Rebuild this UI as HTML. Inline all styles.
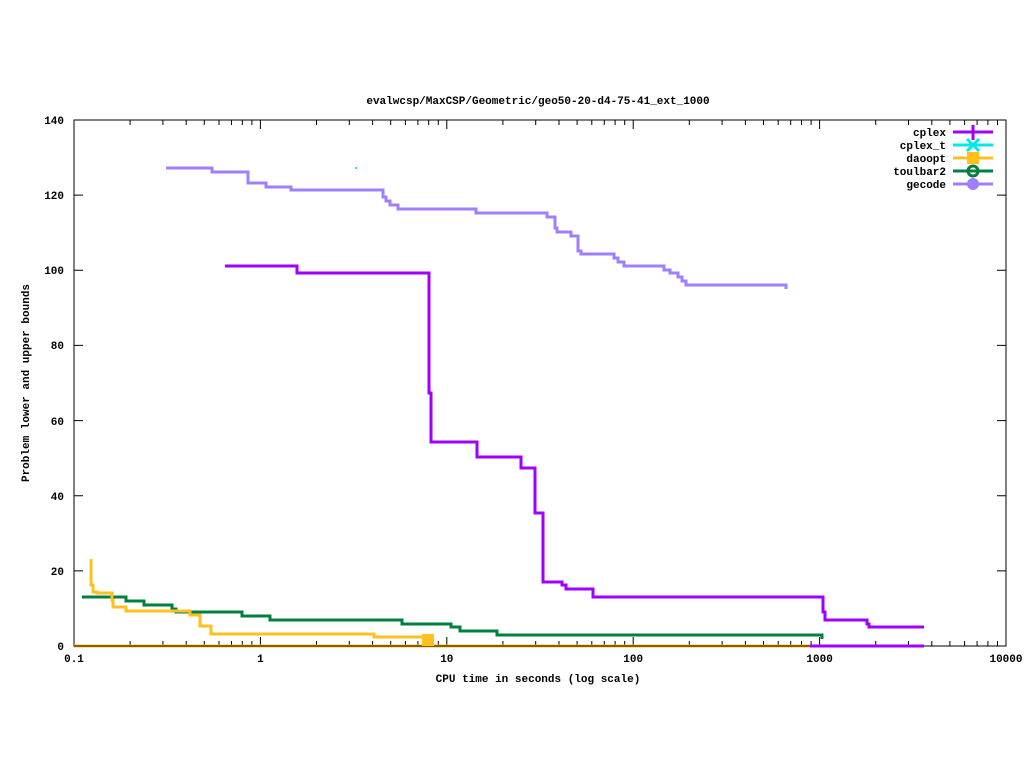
<!DOCTYPE html>
<html><head><style>body{margin:0;background:#fff}svg{display:block}text{font-family:"Liberation Mono",monospace;font-size:11px;font-weight:bold;fill:#000}</style></head><body>
<svg width="1024" height="768" xmlns="http://www.w3.org/2000/svg">
<rect x="74" y="120" width="932" height="526" fill="none" stroke="#000" stroke-width="1"/>
<path stroke="#000" stroke-width="1" fill="none" d="
M74 646v-9M74 120v9M260.4 646v-9M260.4 120v9M446.8 646v-9M446.8 120v9M633.2 646v-9M633.2 120v9M819.6 646v-9M819.6 120v9
M130.1 646v-5M162.9 646v-5M186.2 646v-5M204.3 646v-5M219 646v-5M231.5 646v-5M242.3 646v-5M251.9 646v-5
M316.5 646v-5M349.3 646v-5M372.6 646v-5M390.7 646v-5M405.4 646v-5M417.9 646v-5M428.7 646v-5M438.3 646v-5
M502.9 646v-5M535.7 646v-5M559 646v-5M577.1 646v-5M591.8 646v-5M604.3 646v-5M615.1 646v-5M624.7 646v-5
M689.3 646v-5M722.1 646v-5M745.4 646v-5M763.5 646v-5M778.2 646v-5M790.7 646v-5M801.5 646v-5M811.1 646v-5
M875.7 646v-5M908.5 646v-5M931.8 646v-5M949.9 646v-5M964.6 646v-5M977.1 646v-5M987.9 646v-5M997.5 646v-5
M130.1 120v5M162.9 120v5M186.2 120v5M204.3 120v5M219 120v5M231.5 120v5M242.3 120v5M251.9 120v5
M316.5 120v5M349.3 120v5M372.6 120v5M390.7 120v5M405.4 120v5M417.9 120v5M428.7 120v5M438.3 120v5
M502.9 120v5M535.7 120v5M559 120v5M577.1 120v5M591.8 120v5M604.3 120v5M615.1 120v5M624.7 120v5
M689.3 120v5M722.1 120v5M745.4 120v5M763.5 120v5M778.2 120v5M790.7 120v5M801.5 120v5M811.1 120v5
M875.7 120v5M908.5 120v5M931.8 120v5M949.9 120v5M964.6 120v5M977.1 120v5M987.9 120v5M997.5 120v5
M74 646h9M1006 646h-9M74 570.9h9M1006 570.9h-9M74 495.7h9M1006 495.7h-9M74 420.6h9M1006 420.6h-9
M74 345.4h9M1006 345.4h-9M74 270.3h9M1006 270.3h-9M74 195.1h9M1006 195.1h-9M74 120h9M1006 120h-9"/>
<g text-anchor="end">
<text x="64" y="650">0</text><text x="64" y="575">20</text><text x="64" y="500">40</text><text x="64" y="425">60</text>
<text x="64" y="349">80</text><text x="64" y="274">100</text><text x="64" y="199">120</text><text x="64" y="124">140</text>
</g>
<g text-anchor="middle">
<text x="74" y="662">0.1</text><text x="260.4" y="662">1</text><text x="446.8" y="662">10</text><text x="633.2" y="662">100</text><text x="819.6" y="662">1000</text><text x="1006" y="662">10000</text>
</g>
<text x="538" y="104" text-anchor="middle">evalwcsp/MaxCSP/Geometric/geo50-20-d4-75-41_ext_1000</text>
<text x="538" y="682" text-anchor="middle">CPU time in seconds (log scale)</text>
<text x="29" y="383" text-anchor="middle" transform="rotate(-90 29 383)">Problem lower and upper bounds</text>
<g fill="none" stroke-width="3">
<polyline stroke="#ffc020" points="74,646 810,646"/>
<polyline stroke="#000" stroke-width="1" points="74,646 810,646"/>
<polyline stroke="#a000ff" points="810,646 924,646"/>
<polyline stroke="#9f7fff" points="166,168 212,168 212,172 248,172 248,183 266,183 266,187 291,187 291,190 383,190 383,197 386,197 386,201 390,201 390,205 398,205 398,209 476,209 476,213 547,213 547,217 555,217 555,228 557,228 557,232 571,232 571,236 578,236 578,251 581,251 581,254 614,254 614,258 618,258 618,262 624,262 624,266 664,266 664,270 670,270 670,273 678,273 678,277 682,277 682,281 686,281 686,285 786,285 786,289"/>
<polyline stroke="#a000ff" points="225,266 297,266 297,273 429,273 429,393 431,393 431,442 477,442 477,457 521,457 521,468 535,468 535,513 543,513 543,582 562,582 562,585 566,585 566,589 593,589 593,597 823,597 823,612 825,612 825,620 867,620 867,624 869,624 869,627 924,627"/>
<polyline stroke="#007f3f" points="82,597 126,597 126,601 144,601 144,605 172,605 172,609 176,609 176,612 242,612 242,616 270,616 270,620 402,620 402,624 451,624 451,627 460,627 460,631 497,631 497,635 822,635 822,639"/>
<polyline stroke="#ffc020" points="91,559 91,585 93,585 93,592 97,592 97,593 112,593 112,600 113,600 113,607 126,607 126,611 190,611 190,615 200,615 200,626 211,626 211,634 374,634 374,637 428,637 428,641"/>
</g>
<rect x="422" y="634" width="12" height="12" fill="#ffc020"/>
<rect x="355" y="167" width="2" height="2" fill="#20e0e0"/>
<g stroke-width="3" fill="none">
<line x1="953" y1="132" x2="993" y2="132" stroke="#a000ff"/><line x1="973" y1="125" x2="973" y2="140" stroke="#a000ff"/>
<line x1="953" y1="145" x2="993" y2="145" stroke="#00e8e8"/><path d="M967,139 L979,151 M979,139 L967,151" stroke="#00e8e8"/>
<line x1="953" y1="158" x2="993" y2="158" stroke="#ffc020"/><rect x="967" y="152" width="12" height="12" fill="#ffc020" stroke="none"/>
<line x1="953" y1="171" x2="993" y2="171" stroke="#007f3f"/><circle cx="973" cy="171" r="5" stroke="#007f3f"/>
<line x1="953" y1="184" x2="993" y2="184" stroke="#9f7fff"/><circle cx="973" cy="184" r="6" fill="#9f7fff" stroke="none"/>
</g>
<text x="946" y="136" text-anchor="end">cplex</text>
<text x="946" y="149" text-anchor="end">cplex_t</text>
<text x="946" y="162" text-anchor="end">daoopt</text>
<text x="946" y="175" text-anchor="end">toulbar2</text>
<text x="946" y="188" text-anchor="end">gecode</text>
</svg>
</body></html>
